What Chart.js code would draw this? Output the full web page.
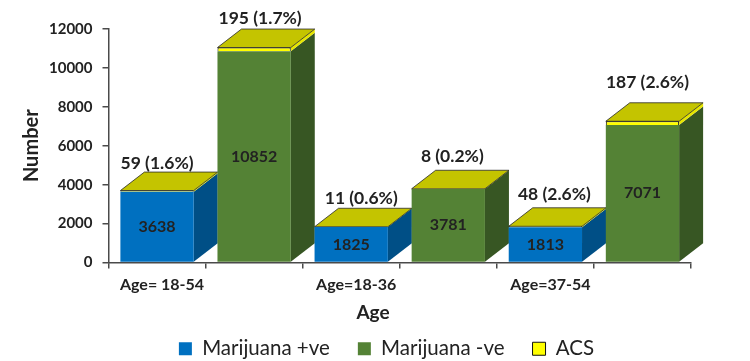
<!DOCTYPE html>
<html>
<head>
<meta charset="utf-8">
<script src="https://cdn.jsdelivr.net/npm/chart.js@4"></script>
<style>
  html, body { margin: 0; background: #fff; }
  canvas { display: block; }
</style>
</head>
<body>
<canvas id="chart" width="750" height="361"></canvas>
<script>
const categories = ['Age= 18-54', '', 'Age=18-36', '', 'Age=37-54', ''];
const positive = [3638, null, 1825, null, 1813, null];
const negative = [null, 10852, null, 3781, null, 7071];
const acs = [59, 195, 11, 8, 48, 187];
const acsLabels = ['59 (1.6%)', '195 (1.7%)', '11 (0.6%)', '8 (0.2%)', '48 (2.6%)', '187 (2.6%)'];
const yTicks = [0, 2000, 4000, 6000, 8000, 10000, 12000];

// look of the fake 3D boxes
const depthX = 24, depthY = 18.5;
const sideColors = ['#004f86', '#375623', '#e6e600'];
const topColor = '#c4c400';
const textColor = '#222';
// hand placement of the labels above the boxes, [right, up]
const acsNudge = [[0, 9], [6, 11], [10, 10], [4, 14], [9, 13], [5, 20]];

const box3d = {
  id: 'box3d',
  afterLayout(chart) {
    // legend sits a bit right and below where the layout puts it
    chart.legend.left += 41;
    chart.legend.right += 41;
    chart.legend.top += 8;
    chart.legend.bottom += 8;
  },
  beforeDatasetsDraw(chart) {
    const ctx = chart.ctx;
    ctx.save();
    ctx.lineWidth = 0.8;
    ctx.strokeStyle = '#2a2a2a';
    categories.forEach((_, i) => {
      chart.data.datasets.forEach((ds, d) => {
        if (ds.data[i] === null) return;
        const bar = chart.getDatasetMeta(d).data[i];
        const right = bar.x + bar.width / 2;
        ctx.fillStyle = sideColors[d];
        ctx.beginPath();
        ctx.moveTo(right, bar.y);
        ctx.lineTo(right + depthX, bar.y - depthY);
        ctx.lineTo(right + depthX, bar.base - depthY);
        ctx.lineTo(right, bar.base);
        ctx.closePath();
        ctx.fill();
      });
      const top = chart.getDatasetMeta(2).data[i];
      const l = top.x - top.width / 2, r = top.x + top.width / 2;
      ctx.fillStyle = topColor;
      ctx.beginPath();
      ctx.moveTo(l, top.y);
      ctx.lineTo(l + depthX, top.y - depthY);
      ctx.lineTo(r + depthX, top.y - depthY);
      ctx.lineTo(r, top.y);
      ctx.closePath();
      ctx.fill();
      ctx.stroke();
    });
    ctx.restore();
  },
  afterDatasetsDraw(chart) {
    const ctx = chart.ctx;
    ctx.save();
    ctx.fillStyle = textColor;
    ctx.textAlign = 'center';
    ctx.textBaseline = 'middle';
    categories.forEach((_, i) => {
      ctx.font = 'bold 16px Lato';
      [0, 1].forEach(d => {
        const value = chart.data.datasets[d].data[i];
        if (value === null) return;
        const bar = chart.getDatasetMeta(d).data[i];
        ctx.fillText(String(value), bar.x, (bar.y + bar.base) / 2);
      });
      ctx.font = 'bold 17.5px Lato';
      const top = chart.getDatasetMeta(2).data[i];
      ctx.fillText(acsLabels[i], top.x + acsNudge[i][0], top.y - depthY - acsNudge[i][1]);
    });
    ctx.font = 'bold 19px Lato';
    ctx.fillText('Age', 373, 313);
    ctx.restore();
  }
};

new Chart(document.getElementById('chart'), {
  type: 'bar',
  data: {
    labels: categories,
    datasets: [
      { label: 'Marijuana +ve', data: positive, backgroundColor: '#0070c0', borderWidth: 0 },
      { label: 'Marijuana -ve', data: negative, backgroundColor: '#548235', borderWidth: 0 },
      { label: 'ACS', data: acs, backgroundColor: '#ffff00', borderColor: '#111', borderWidth: 1 }
    ]
  },
  options: {
    responsive: false,
    animation: false,
    barPercentage: 0.755,
    categoryPercentage: 1,
    layout: { padding: { top: 29, right: 59, left: 0, bottom: 0 } },
    plugins: {
      tooltip: { enabled: false },
      legend: {
        position: 'bottom',
        labels: {
          boxWidth: 13,
          boxHeight: 13,
          padding: 28,
          color: textColor,
          font: { family: 'Lato', size: 20.5 }
        }
      }
    },
    scales: {
      x: {
        stacked: true,
        afterFit(scale) { scale.height = 40; },
        border: { color: '#4a4a4a', width: 1.5 },
        grid: { drawOnChartArea: false, tickLength: 6, color: '#4a4a4a', lineWidth: 1.5 },
        ticks: {
          autoSkip: false,
          maxRotation: 0,
          padding: 7,
          labelOffset: 5,
          color: textColor,
          font: { family: 'Lato', size: 16, weight: 'bold' }
        }
      },
      y: {
        stacked: true,
        min: 0,
        max: 12000,
        afterFit(scale) { scale.width = 108.5; },
        afterBuildTicks(scale) { scale.ticks = yTicks.map(value => ({ value })); },
        border: { color: '#4a4a4a', width: 1.5 },
        grid: { drawOnChartArea: false, tickLength: 6, color: '#4a4a4a', lineWidth: 1.5 },
        title: {
          display: true,
          text: 'Number',
          color: textColor,
          padding: { top: 20, bottom: 0 },
          font: { family: 'Lato', size: 20, weight: 'bold' }
        },
        ticks: {
          padding: 10,
          color: textColor,
          font: { family: 'Lato', size: 15, weight: 'bold' },
          callback: value => String(value)
        }
      }
    }
  },
  plugins: [box3d]
});
</script>
</body>
</html>
